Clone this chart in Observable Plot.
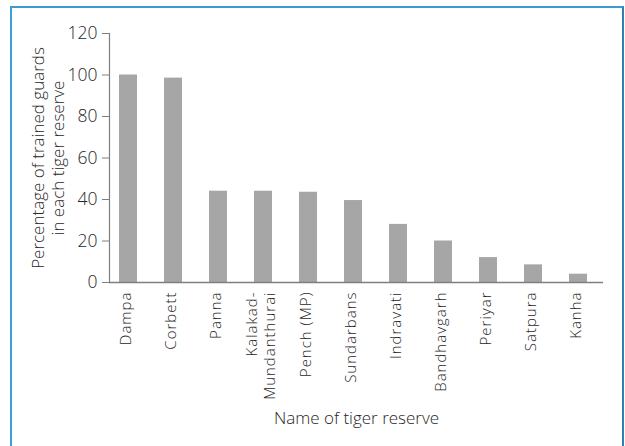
<!DOCTYPE html>
<html>
<head>
<meta charset="utf-8">
<script src="https://cdn.jsdelivr.net/npm/d3@7"></script>
<script src="https://cdn.jsdelivr.net/npm/@observablehq/plot@0.6"></script>
<style>
  html, body { margin: 0; padding: 0; background: #fff; }
  #wrap { position: relative; width: 625px; height: 446px; overflow: hidden; }
  #box { position: absolute; left: 10px; top: 6px; width: 610px; height: 460px;
         border-left: 2px solid #3d9fd8; border-top: 2px solid #3a9ad2; border-right: 2px solid #2d80b0; }
  #chart { position: absolute; left: 0; top: 0; }
  #chart svg text { font-weight: 350; }
</style>
</head>
<body>
<div id="wrap"><div id="box"></div><div id="chart"></div></div>
<script>
const reserves = ["Dampa", "Corbett", "Panna", "Kalakad-Mundanthurai", "Pench (MP)", "Sundarbans",
                  "Indravati", "Bandhavgarh", "Periyar", "Satpura", "Kanha"];
const percentTrained = [100, 98.5, 44, 44, 43.5, 39.5, 28, 20, 12, 8.5, 4];
const yTicks = [0, 20, 40, 60, 80, 100, 120];
const yLabel = "Percentage of trained guards\nin each tiger reserve";
const xLabel = "Name of tiger reserve";

const data = reserves.map((name, i) => ({name, value: percentTrained[i]}));

const svg = Plot.plot({
  width: 625,
  height: 446,
  marginTop: 33,
  marginBottom: 164,
  marginLeft: 109,
  marginRight: 22,
  style: {fontFamily: "Open Sans", color: "#262626", background: "transparent"},
  x: {domain: reserves, range: [104.4, 601.6], paddingInner: 0.6, paddingOuter: 0.3},
  y: {domain: [0, 120]},
  marks: [
    Plot.barY(data, {x: "name", y: "value", fill: "#a6a6a6"}),
    Plot.frame({anchor: "left", stroke: "#7f7f7f", strokeWidth: 1.2}),
    Plot.ruleY([0], {stroke: "#7f7f7f", strokeWidth: 1.6}),
    Plot.axisY({ticks: yTicks, tickSize: 7, tickPadding: 5, fontSize: 17.5, label: null, stroke: "#7f7f7f"}),
    Plot.axisX({tickRotate: -90, tickSize: 0, tickPadding: 9, label: null, fontSize: 15, dx: -3, lineHeight: 1.2,
                tickFormat: d => d === "Kalakad-Mundanthurai" ? "Kalakad-\nMundanthurai" : d}),
    Plot.text([yLabel], {frameAnchor: "left", textAnchor: "middle", rotate: -90, dx: -62, fontSize: 17, lineHeight: 1.2, fill: "#262626"}),
    Plot.text([xLabel], {frameAnchor: "bottom", dy: 141, fontSize: 17, fill: "#262626"})
  ]
});
d3.select(svg).selectAll("g[aria-label='x-axis tick label'] text").attr("letter-spacing", "1px");
document.getElementById("chart").append(svg);
</script>
</body>
</html>
